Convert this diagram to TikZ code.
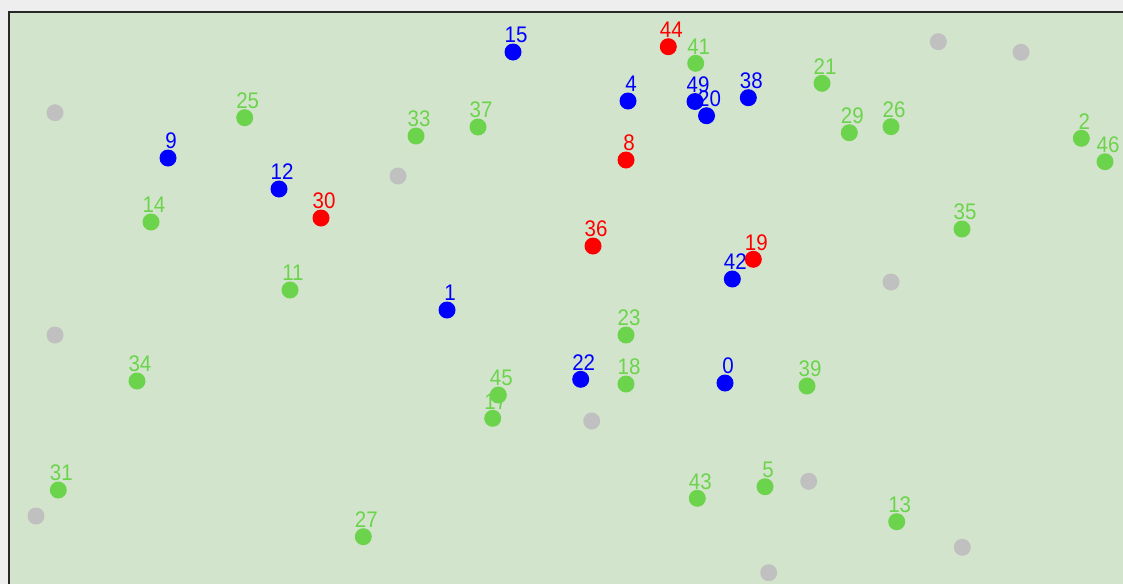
\documentclass[tikz,border=0pt]{standalone}
\usepackage{fontspec}
\setmainfont{Liberation Sans}
\definecolor{bgout}{RGB}{238,238,238}
\definecolor{plotbg}{RGB}{211,228,204}
\definecolor{frame}{RGB}{40,40,40}
\definecolor{cgray}{RGB}{192,192,192}
\definecolor{cgreen}{RGB}{108,212,76}
\definecolor{cblue}{RGB}{0,0,255}
\definecolor{cred}{RGB}{255,0,0}
\tikzset{
  dot/.style={circle,fill=#1,inner sep=0pt,minimum size=17pt},
  lbl/.style={anchor=base,inner sep=0pt,text=#1,font=\fontsize{20.5}{20.5}\selectfont}
}
\begin{document}
\begin{tikzpicture}[x=1pt,y=-1pt]
\useasboundingbox (0,0) rectangle (1123,584);
\fill[bgout] (0,0) rectangle (1123,584);
\fill[plotbg] (10,13) rectangle (1123,584);
\draw[frame,line width=2pt] (9,584) -- (9,12) -- (1123,12);
% labels first (dots are drawn over labels)
\foreach \n/\x/\y/\c in {
 15/513/52/cblue, 4/628/101/cblue, 49/695/101.5/cblue, 20/706.5/115.7/cblue, 38/748.3/97.7/cblue,
 9/168/158/cblue, 12/279/189/cblue, 1/447/310/cblue, 42/732.3/279/cblue, 22/580.7/379.3/cblue, 0/725/383/cblue,
 44/668.3/46.7/cred, 8/626/160/cred, 30/321/218/cred, 36/593/246/cred, 19/753.3/259.3/cred,
 41/695.7/63.3/cgreen, 21/822/83.3/cgreen, 25/244.7/117.7/cgreen, 33/416/136/cgreen, 37/478/127/cgreen,
 29/849.3/132.7/cgreen, 26/891/126.7/cgreen, 2/1081.3/138.3/cgreen, 46/1105/161.7/cgreen,
 14/151/222/cgreen, 35/962/229/cgreen, 11/290/290/cgreen, 23/626/335/cgreen, 34/137/381/cgreen,
 17/492.7/418.3/cgreen, 45/498.3/395/cgreen, 18/626/384/cgreen, 39/807/386/cgreen,
 31/58.3/490/cgreen, 27/363.3/536.7/cgreen, 43/697.3/498.3/cgreen, 5/765/486.7/cgreen, 13/896.7/521.7/cgreen}
{
  \node[lbl=\c] (l\n) at (\x+3,\y-9.3) {\scalebox{1}[1.1]{\n}};
}
% gray unlabeled dots
\foreach \i/\x/\y in {1/55/112.7, 2/398/176, 3/55/335, 4/938.3/41.7, 5/1021/52.3, 6/891/282,
 7/591.7/421, 8/36/516, 9/808.7/481.3, 10/962.3/547.3, 11/768.7/572.7}
{
  \node[dot=cgray] (g\i) at (\x,\y) {};
}
% labelled dots
\foreach \n/\x/\y/\c in {
 15/513/52/cblue, 4/628/101/cblue, 49/695/101.5/cblue, 20/706.5/115.7/cblue, 38/748.3/97.7/cblue,
 9/168/158/cblue, 12/279/189/cblue, 1/447/310/cblue, 42/732.3/279/cblue, 22/580.7/379.3/cblue, 0/725/383/cblue,
 44/668.3/46.7/cred, 8/626/160/cred, 30/321/218/cred, 36/593/246/cred, 19/753.3/259.3/cred,
 41/695.7/63.3/cgreen, 21/822/83.3/cgreen, 25/244.7/117.7/cgreen, 33/416/136/cgreen, 37/478/127/cgreen,
 29/849.3/132.7/cgreen, 26/891/126.7/cgreen, 2/1081.3/138.3/cgreen, 46/1105/161.7/cgreen,
 14/151/222/cgreen, 35/962/229/cgreen, 11/290/290/cgreen, 23/626/335/cgreen, 34/137/381/cgreen,
 17/492.7/418.3/cgreen, 45/498.3/395/cgreen, 18/626/384/cgreen, 39/807/386/cgreen,
 31/58.3/490/cgreen, 27/363.3/536.7/cgreen, 43/697.3/498.3/cgreen, 5/765/486.7/cgreen, 13/896.7/521.7/cgreen}
{
  \node[dot=\c] (n\n) at (\x,\y) {};
}
\end{tikzpicture}
\end{document}
